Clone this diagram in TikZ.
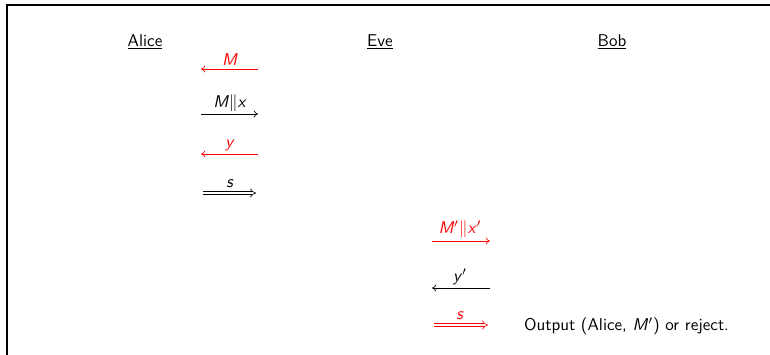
\documentclass[tikz,border=0pt]{standalone}
\usetikzlibrary{arrows.meta}
\renewcommand{\familydefault}{\sfdefault}
\begin{document}
\begin{tikzpicture}[x=0.587pt,y=-0.587pt,
  party/.style={font=\sffamily},
  lbl/.style={font=\sffamily, inner sep=1pt},
  msg/.style={line width=0.4pt, -{To[length=2.5pt,width=4pt]}},
  dmsg/.style={double, double distance=1.5pt, line width=0.35pt, -{Implies[length=4pt]}},
  red/.style={color=red}]
\useasboundingbox (0,0) rectangle (770,355);
\draw[line width=0.6pt] (7,355) -- (7,5) -- (770,5);
\node[party] (alice) at (145,42) {\underline{Alice}};
\node[party] (eve) at (380,42) {\underline{Eve}};
\node[party] (bob) at (612,42) {\underline{Bob}};
% messages Alice-Eve
\coordinate (a1l) at (201,69); \coordinate (a1r) at (258,69);
\draw[msg,red] (a1r) -- (a1l);
\node[lbl,red] (m1) at (230,60) {\textit{M}};
\coordinate (a2l) at (201,114); \coordinate (a2r) at (258,114);
\draw[msg] (a2l) -- (a2r);
\node[lbl] (m2) at (230,103) {\textit{M}$\|$\textit{x}};
\coordinate (a3l) at (201,154); \coordinate (a3r) at (258,154);
\draw[msg,red] (a3r) -- (a3l);
\node[lbl,red] (m3) at (230,145) {\textit{y}};
\coordinate (a4l) at (203,193); \coordinate (a4r) at (256,193);
\draw[dmsg] (a4l) -- (a4r);
\node[lbl] (m4) at (230,184) {\textit{s}};
% messages Eve-Bob
\coordinate (b1l) at (432,241); \coordinate (b1r) at (490,241);
\draw[msg,red] (b1l) -- (b1r);
\node[lbl,red] (n1) at (460,229) {\textit{M}$'\|$\textit{x}$'$};
\coordinate (b2l) at (432,288); \coordinate (b2r) at (490,288);
\draw[msg] (b2r) -- (b2l);
\node[lbl] (n2) at (460,277) {\textit{y}$'$};
\coordinate (b3l) at (434,325); \coordinate (b3r) at (488,325);
\draw[dmsg,red] (b3l) -- (b3r);
\node[lbl,red] (n3) at (460,316) {\textit{s}};
\node[lbl,anchor=west] (out) at (522,326) {Output (Alice, \textit{M}$'$) or reject.};
\end{tikzpicture}
\end{document}
